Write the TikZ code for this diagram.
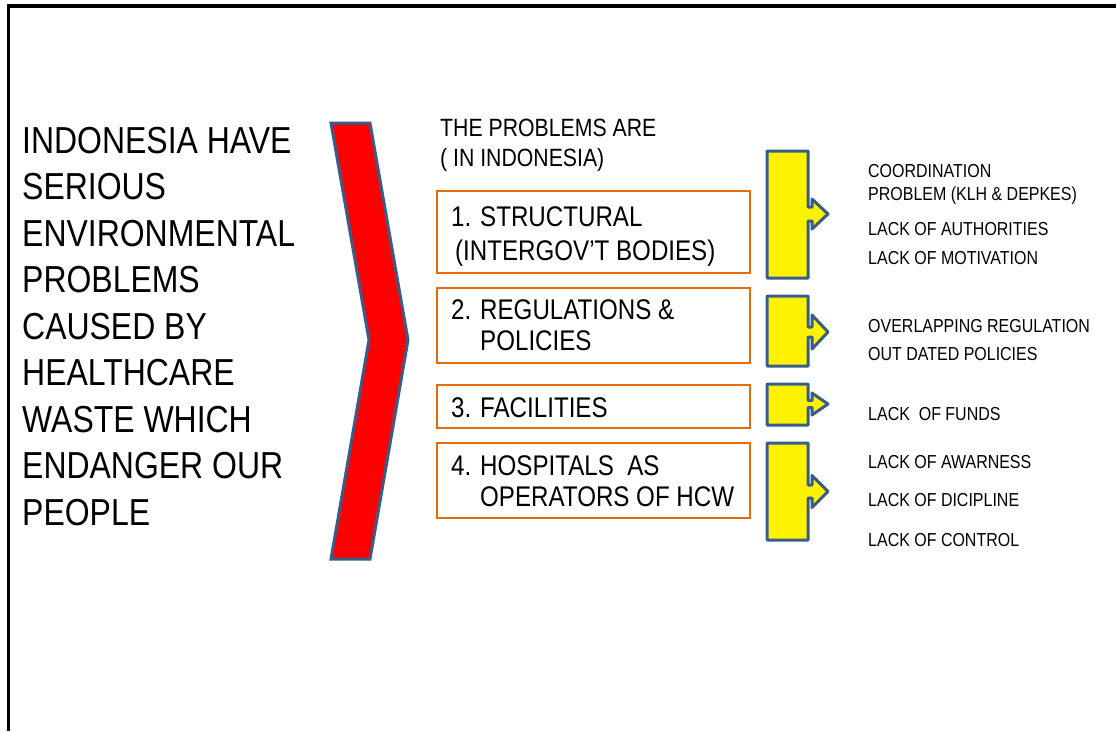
\documentclass[tikz,border=0pt]{standalone}
\usepackage{fontspec}
\setmainfont[FakeStretch=0.85]{Liberation Sans}

\definecolor{edgeblue}{RGB}{56,93,138}
\definecolor{boxorange}{RGB}{228,108,10}

% yellow bar with its arrow: top, bottom, arrow y, shaft half, head half
\newcommand{\callbar}[5]{%
  \draw[callbar] (767,#1) -- (808,#1) -- (808,#3-#4) -- (812,#3-#4) -- (812,#3-#5)
    -- (828,#3) -- (812,#3+#5) -- (812,#3+#4) -- (808,#3+#4) -- (808,#2) -- (767,#2) -- cycle;}

\begin{document}
\begin{tikzpicture}[x=1pt, y=-1pt,
    probbox/.style = {draw=boxorange, line width=2.5pt, minimum width=313pt, inner sep=0pt},
    boxtext/.style = {anchor=base west, inner sep=0pt, align=left, font=\fontsize{28.4}{34}\selectfont},
    cause/.style = {anchor=base west, inner sep=0pt, font=\fontsize{18.8}{22}\selectfont},
    callbar/.style = {draw=edgeblue, fill=yellow, line width=3pt, line join=round}]
    \useasboundingbox (0,0) rectangle (1116,731);
    % frame
    \draw[line width=3.5pt] (8.5,731) -- (8.5,6) -- (1116,6);
    % main statement (base = last line)
    \node[anchor=base west, inner sep=0pt, align=left, font=\fontsize{37.6}{46.5}\selectfont] (claim) at (22,525)
        {INDONESIA HAVE\\SERIOUS\\ENVIRONMENTAL\\PROBLEMS\\CAUSED BY\\HEALTHCARE\\WASTE WHICH\\ENDANGER OUR\\PEOPLE};
    % chevron
    \draw[draw=edgeblue, fill=red, line width=3pt] (331,123) -- (370,123) -- (408,340) -- (370,559)
        -- (331,559) -- (369,340) -- cycle;
    \node[anchor=base west, inner sep=0pt, align=left, font=\fontsize{25}{30}\selectfont] (intro) at (440,166)
        {THE PROBLEMS ARE\\( IN INDONESIA)};
    % problem boxes
    \node[probbox, minimum height=82pt] (box1) at (593.5,232) {};
    \node[probbox, minimum height=75pt] (box2) at (593.5,325.5) {};
    \node[probbox, minimum height=43pt] (box3) at (593.5,406.5) {};
    \node[probbox, minimum height=75pt] (box4) at (593.5,480.5) {};
    \node[boxtext] (prob1) at (451,260) {\makebox[29pt][l]{1.}STRUCTURAL\\\hspace*{4pt}(INTERGOV'T BODIES)};
    \node[boxtext, font=\fontsize{28.4}{31}\selectfont] (prob2) at (451,350) {\makebox[29pt][l]{2.}REGULATIONS \&\\\hspace*{29pt}POLICIES};
    \node[boxtext] (prob3) at (451,417) {\makebox[29pt][l]{3.}FACILITIES};
    \node[boxtext, font=\fontsize{28.4}{31}\selectfont] (prob4) at (451,506) {\makebox[29pt][l]{4.}HOSPITALS\ \ AS\\\hspace*{29pt}OPERATORS OF HCW};
    % yellow bars
    \callbar{151}{278}{214}{7}{15}
    \callbar{296}{366}{332}{5}{17}
    \callbar{384}{425}{404}{3.5}{11}
    \callbar{443}{540}{491.5}{6.5}{16}
    % causes
    \node[cause] (coord1) at (868,177) {COORDINATION};
    \node[cause] (coord2) at (868,200.5) {PROBLEM (KLH \& DEPKES)};
    \node[cause] (auth) at (868,235) {LACK OF AUTHORITIES};
    \node[cause] (motiv) at (868,264) {LACK OF MOTIVATION};
    \node[cause] (overlap) at (868,332) {OVERLAPPING REGULATION};
    \node[cause] (outdated) at (868,360.5) {OUT DATED POLICIES};
    \node[cause] (funds) at (868,420) {LACK\ \ OF FUNDS};
    \node[cause] (aware) at (868,468) {LACK OF AWARNESS};
    \node[cause] (disc) at (868,506.5) {LACK OF DICIPLINE};
    \node[cause] (control) at (868,546) {LACK OF CONTROL};
\end{tikzpicture}
\end{document}
